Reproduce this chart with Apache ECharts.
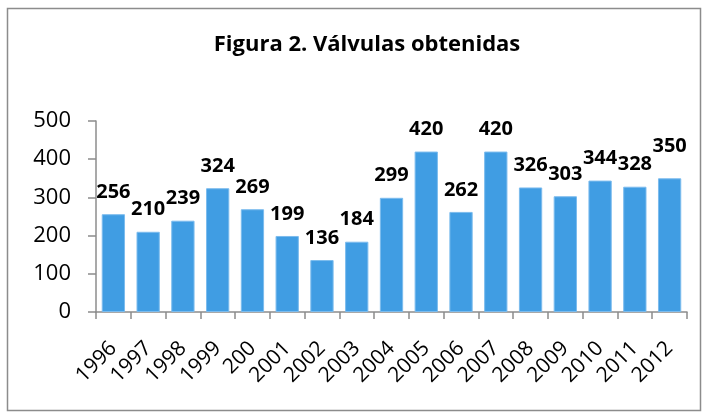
<!DOCTYPE html>
<html>
<head>
<meta charset="utf-8">
<script src="https://cdn.jsdelivr.net/npm/echarts@6/dist/echarts.min.js"></script>
<style>
  html, body { margin: 0; padding: 0; background: #fff; }
  #chart { width: 705px; height: 414px; }
</style>
</head>
<body>
<div id="chart"></div>
<script>
// years as printed on the original (note "200" for 2000)
var years = ["1996", "1997", "1998", "1999", "200", "2001", "2002", "2003", "2004",
  "2005", "2006", "2007", "2008", "2009", "2010", "2011", "2012"];
var valvulas = [256, 210, 239, 324, 269, 199, 136, 184, 299, 420, 262, 420, 326, 303, 344, 328, 350];
var yTicks = [0, 100, 200, 300, 400, 500];

var chartDom = document.getElementById("chart");
var myChart = echarts.init(chartDom);
var font = "'Open Sans', Lato, sans-serif";

var option = {
  animation: false,
  title: {
    text: "Figura 2. Válvulas obtenidas",
    left: 362,
    top: 29,
    textAlign: "center",
    textStyle: { fontFamily: font, fontSize: 22, fontWeight: "bold", color: "#000" },
  },
  graphic: [
    {
      type: "rect",
      shape: { x: 7.5, y: 8.5, width: 693, height: 402 },
      style: { fill: "none", stroke: "#8c8c8c", lineWidth: 1.5 },
    },
  ],
  grid: { left: 96, right: 18, top: 121, bottom: 102 },
  xAxis: {
    type: "category",
    data: years,
    axisLine: { lineStyle: { color: "#8c8c8c", width: 1.5 } },
    axisTick: { show: true, length: 7, lineStyle: { color: "#8c8c8c", width: 1.5 } },
    axisLabel: {
      interval: 0,
      rotate: 45,
      margin: 33,
      fontFamily: font,
      fontSize: 21,
      color: "#000",
    },
  },
  yAxis: {
    type: "value",
    min: yTicks[0],
    max: yTicks[yTicks.length - 1],
    interval: 100,
    splitLine: { show: false },
    axisLine: { show: true, lineStyle: { color: "#8c8c8c", width: 1.5 } },
    axisTick: { show: true, length: 8, lineStyle: { color: "#8c8c8c", width: 1.5 } },
    axisLabel: { margin: 25, fontFamily: font, fontSize: 22, color: "#000" },
  },
  series: [
    {
      type: "bar",
      data: valvulas.map(function (v, i) {
        return {
          value: v,
          label: { distance: years[i] === "2012" ? 22 : 12 },
        };
      }),
      barCategoryGap: "33%",
      itemStyle: { color: "#409de3", borderColor: "#7cbcee", borderWidth: 1 },
      label: {
        show: true,
        position: "top",
        fontFamily: font,
        fontSize: 20,
        fontWeight: "bold",
        color: "#000",
      },
    },
  ],
};

option && myChart.setOption(option);
</script>
</body>
</html>
